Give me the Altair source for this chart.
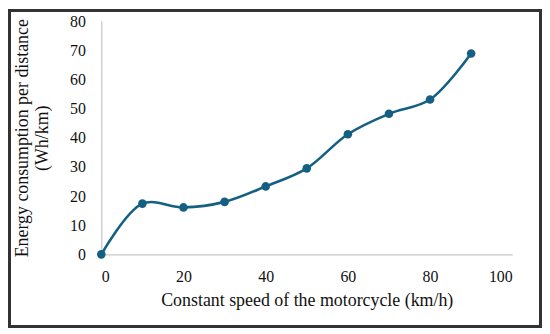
import altair as alt
import pandas as pd

speed = [0, 10, 20, 30, 40, 50, 60, 70, 80, 90]
energy = [0, 17.4, 16.1, 18.0, 23.3, 29.5, 41.2, 48.2, 53.1, 68.9]

df = pd.DataFrame({"speed": speed, "energy": energy})

FONT = "Liberation Serif"
COLOR = "#156082"

W, H = 414, 235
PL, PT, PR, PB = 94, 12, 30, 74

x = alt.X("speed:Q", scale=alt.Scale(domain=[0, 100]),
          axis=alt.Axis(values=[0, 20, 40, 60, 80, 100], title="Constant speed of the motorcycle (km/h)",
                        grid=False, ticks=False, domainColor="#c8c8c8", domainWidth=1.3,
                        labelFont=FONT, labelFontSize=16, labelColor="#111", labelPadding=14,
                        labelOverlap=False,
                        titleFont=FONT, titleFontSize=18, titleFontWeight="normal", titleColor="#111",
                        titlePadding=8))
y = alt.Y("energy:Q", scale=alt.Scale(domain=[0, 80]),
          axis=alt.Axis(values=[0, 10, 20, 30, 40, 50, 60, 70, 80],
                        title=["Energy consumption per distance", "(Wh/km)"],
                        grid=False, ticks=False, domainColor="#c8c8c8", domainWidth=1.3,
                        labelFont=FONT, labelFontSize=16, labelColor="#111", labelPadding=16,
                        labelOverlap=False,
                        titleFont=FONT, titleFontSize=18, titleFontWeight="normal", titleColor="#111",
                        titlePadding=18, titleLineHeight=20))

base = alt.Chart(df).encode(x=x, y=y)
line = base.mark_line(interpolate="catmull-rom", color=COLOR, strokeWidth=2.6)
pts = base.mark_circle(color=COLOR, size=75, opacity=1)

frame = alt.Chart(df).mark_rect(fill=None, stroke="#333", strokeWidth=2.5).encode(
    x=alt.value(-PL + 1.5), x2=alt.value(W + PR - 1.5), y=alt.value(-PT + 1.5), y2=alt.value(H + PB - 1.5)
)

chart = alt.layer(line, pts, frame).properties(
    width=W, height=H,
    autosize=alt.AutoSizeParams(type="none"),
    padding={"left": PL, "top": PT, "right": PR, "bottom": PB},
).configure_view(stroke=None)

chart.save("out.html", embed_options={"renderer": "svg", "actions": False})
